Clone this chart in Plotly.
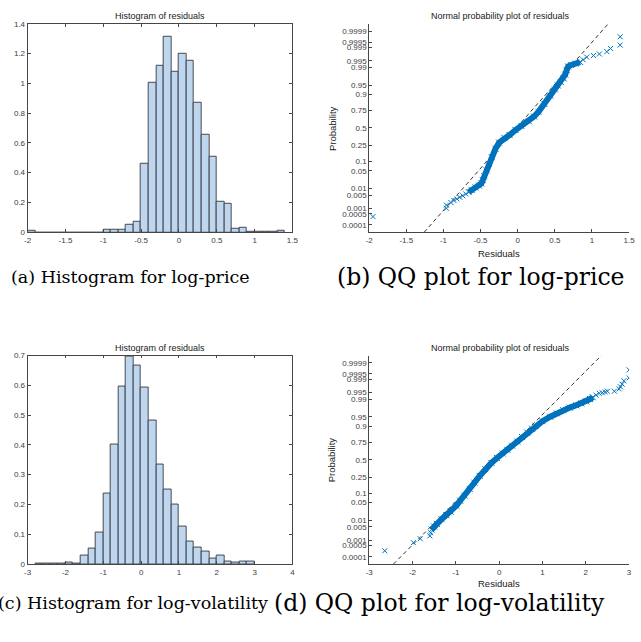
import plotly.graph_objects as go
from statistics import NormalDist

W, H = 641, 642

# ---------------- data ----------------
# (a) histogram of log-price residuals (bin width 0.1, density)
price_bin_left = [-2.0, -1.9, -1.8, -1.7, -1.6, -1.5, -1.4, -1.3, -1.2, -1.1,
                  -1.0, -0.9, -0.8, -0.7, -0.6, -0.5, -0.4, -0.3, -0.2, -0.1,
                  0.0, 0.1, 0.2, 0.3, 0.4, 0.5, 0.6, 0.7, 0.8, 0.9,
                  1.0, 1.1, 1.2, 1.3]
price_density = [0.007, 0, 0, 0, 0, 0, 0, 0, 0, 0,
                 0.015, 0.02, 0.02, 0.053, 0.073, 0.462, 1.007, 1.117, 1.312, 1.08,
                 1.197, 1.153, 0.872, 0.653, 0.504, 0.204, 0.19, 0.024, 0.031, 0.005,
                 0.003, 0.003, 0.005, 0.012]
price_bin_width = 0.1

# (c) histogram of log-volatility residuals (bin width 0.2, density)
vol_bin_left = [-2.8, -2.6, -2.4, -2.2, -2.0, -1.8, -1.6, -1.4, -1.2, -1.0,
                -0.8, -0.6, -0.4, -0.2, 0.0, 0.2, 0.4, 0.6, 0.8, 1.0,
                1.2, 1.4, 1.6, 1.8, 2.0, 2.2, 2.4, 2.6, 2.8]
vol_density = [0.002, 0.001, 0.001, 0.001, 0.005, 0.001, 0.028, 0.053, 0.106, 0.236,
               0.402, 0.597, 0.697, 0.666, 0.592, 0.483, 0.335, 0.249, 0.199, 0.126,
               0.076, 0.054, 0.041, 0.02, 0.03, 0.01, 0.005, 0.01, 0.01]
vol_bin_width = 0.2

# (b) normal probability plot, log-price: residual vs normal quantile
price_tail_resid = [-1.95, -0.96, -0.96, -0.90, -0.86, -0.82, -0.78, -0.74, -0.70,
                    0.88, 0.93, 1.02, 1.10, 1.20, 1.25, 1.38, 1.38]
price_tail_q = [-3.40, -3.08, -2.96, -2.86, -2.78, -2.72, -2.66, -2.60, -2.53,
                2.62, 2.72, 2.78, 2.84, 2.93, 3.05, 3.18, 3.50]
price_body_resid = [-0.66, -0.62, -0.57, -0.52, -0.49, -0.47, -0.45, -0.42, -0.39, -0.35,
                    -0.30, -0.25, -0.18, -0.11, -0.03, 0.05, 0.15, 0.22, 0.28, 0.36,
                    0.44, 0.50, 0.54, 0.58, 0.62, 0.64, 0.66, 0.68, 0.72, 0.78, 0.84]
price_body_q = [-2.46, -2.38, -2.28, -2.21, -2.13, -2.00, -1.85, -1.62, -1.38, -1.12,
                -0.80, -0.56, -0.38, -0.27, -0.08, 0.08, 0.26, 0.44, 0.62, 0.92,
                1.24, 1.48, 1.63, 1.76, 1.90, 2.05, 2.22, 2.36, 2.42, 2.47, 2.53]
price_fit_mu, price_fit_sigma = -0.02, 0.31

# (d) normal probability plot, log-volatility
vol_tail_resid = [-2.64, -1.98, -1.82, -1.60, -1.58,
                  2.24, 2.31, 2.38, 2.45, 2.50, 2.66, 2.77, 2.80, 2.84, 2.88, 3.0, 3.0]
vol_tail_q = [-3.49, -3.18, -3.03, -2.92, -2.80,
              2.48, 2.55, 2.57, 2.60, 2.63, 2.63, 2.72, 2.80, 2.90, 3.03, 3.14, 3.45]
vol_body_resid = [-1.56, -1.50, -1.44, -1.33, -1.22, -1.12, -0.99, -0.90, -0.80, -0.68,
                  -0.57, -0.45, -0.32, -0.18, -0.05, 0.08, 0.19, 0.30, 0.42, 0.53,
                  0.65, 0.76, 0.84, 1.00, 1.18, 1.33, 1.48, 1.63, 1.78, 1.90,
                  2.01, 2.10, 2.16]
vol_body_q = [-2.68, -2.56, -2.46, -2.28, -2.12, -1.99, -1.76, -1.57, -1.38, -1.12,
              -0.88, -0.62, -0.36, -0.12, 0.07, 0.24, 0.38, 0.54, 0.70, 0.87,
              1.04, 1.19, 1.30, 1.48, 1.65, 1.78, 1.90, 2.00, 2.09, 2.16,
              2.24, 2.33, 2.40]
vol_fit_mu, vol_fit_sigma = -0.04, 0.60

prob_ticks = [0.0001, 0.0005, 0.001, 0.005, 0.01, 0.05, 0.1, 0.25, 0.5,
              0.75, 0.9, 0.95, 0.99, 0.995, 0.999, 0.9995, 0.9999]
prob_labels = ["0.0001", "0.0005", "0.001", "0.005", "0.01", "0.05", "0.1", "0.25", "0.5",
               "0.75", "0.9", "0.95", "0.99", "0.995", "0.999", "0.9995", "0.9999"]
price_xticks = [-2, -1.5, -1, -0.5, 0, 0.5, 1, 1.5]
vol_hist_xticks = [-3, -2, -1, 0, 1, 2, 3, 4]
vol_qq_xticks = [-3, -2, -1, 0, 1, 2, 3]
price_yticks = [0, 0.2, 0.4, 0.6, 0.8, 1, 1.2, 1.4]
vol_yticks = [0, 0.1, 0.2, 0.3, 0.4, 0.5, 0.6, 0.7]

captions = ["(a) Histogram for log-price", "(b) QQ plot for log-price",
            "(c) Histogram for log-volatility", "(d) QQ plot for log-volatility"]

# ---------------- styles ----------------
SANS = "Liberation Sans, Arial, sans-serif"
SERIF = "DejaVu Serif, serif"
AX = "rgb(70,70,70)"
TICKFONT = dict(family=SANS, size=8, color="rgb(60,60,60)")
BLUE = "rgb(0,114,189)"
BAR_FILL = "rgb(190,215,238)"
BAR_EDGE = "rgb(55,55,65)"

nd = NormalDist()
prob_z = [nd.inv_cdf(p) for p in prob_ticks]


def lab(v):
    return f"{v:g}"


def xd(a, b):
    return [a / W, b / W]


def yd(top, bottom):
    return [1 - bottom / H, 1 - top / H]


TOP = (20, 231.5)
BOT = (356.5, 568)
HIST_X = (24, 293)
QQ_X = (371, 635)

fig = go.Figure()

# histograms
fig.add_trace(go.Bar(x=[l + price_bin_width / 2 for l in price_bin_left], y=price_density,
                     width=price_bin_width, marker=dict(color=BAR_FILL, line=dict(color=BAR_EDGE, width=0.9)),
                     xaxis="x", yaxis="y", showlegend=False))
fig.add_trace(go.Bar(x=[l + vol_bin_width / 2 for l in vol_bin_left], y=vol_density,
                     width=vol_bin_width, marker=dict(color=BAR_FILL, line=dict(color=BAR_EDGE, width=0.9)),
                     xaxis="x3", yaxis="y3", showlegend=False))


def qq(body_x, body_q, tail_x, tail_q, mu, sigma, xa, ya):
    zlo, zhi = -4.0, 4.0
    fig.add_trace(go.Scatter(x=[mu + sigma * zlo, mu + sigma * zhi], y=[zlo, zhi], mode="lines",
                             line=dict(color="rgb(30,30,30)", width=0.9, dash="4px,3px"),
                             xaxis=xa, yaxis=ya, showlegend=False, cliponaxis=True))
    fig.add_trace(go.Scatter(x=body_x, y=body_q, mode="lines+markers",
                             line=dict(color=BLUE, width=6),
                             marker=dict(symbol="x-thin", size=6, line=dict(color=BLUE, width=1)),
                             xaxis=xa, yaxis=ya, showlegend=False))
    fig.add_trace(go.Scatter(x=tail_x, y=tail_q, mode="markers",
                             marker=dict(symbol="x-thin", size=5, color=BLUE, line=dict(color=BLUE, width=1)),
                             xaxis=xa, yaxis=ya, showlegend=False))


qq(price_body_resid, price_body_q, price_tail_resid, price_tail_q, price_fit_mu, price_fit_sigma, "x2", "y2")
qq(vol_body_resid, vol_body_q, vol_tail_resid, vol_tail_q, vol_fit_mu, vol_fit_sigma, "x4", "y4")


def axis(domain, rng, tickvals, ticktext, mirror):
    return dict(domain=domain, range=rng, tickmode="array", tickvals=tickvals, ticktext=ticktext,
                ticks="inside", ticklen=3, tickwidth=0.8, tickcolor=AX,
                showline=True, linecolor=AX, linewidth=0.9, mirror=mirror,
                showgrid=False, zeroline=False, tickfont=TICKFONT, fixedrange=True)


layout = dict(
    width=W, height=H, margin=dict(l=0, r=0, t=0, b=0),
    paper_bgcolor="white", plot_bgcolor="white", bargap=0, showlegend=False,
    xaxis=axis(xd(*HIST_X), [-2, 1.5], price_xticks, [lab(v) for v in price_xticks], "ticks"),
    yaxis=axis(yd(*TOP), [0, 1.4], price_yticks, [lab(v) for v in price_yticks], "ticks"),
    xaxis2=axis(xd(*QQ_X), [-2, 1.5], price_xticks, [lab(v) for v in price_xticks], False),
    yaxis2=axis(yd(*TOP), [-4, 4], prob_z, prob_labels, False),
    xaxis3=axis(xd(*HIST_X), [-3, 4], vol_hist_xticks, [lab(v) for v in vol_hist_xticks], "ticks"),
    yaxis3=axis(yd(*BOT), [0, 0.7], vol_yticks, [lab(v) for v in vol_yticks], "ticks"),
    xaxis4=axis(xd(*QQ_X), [-3, 3], vol_qq_xticks, [lab(v) for v in vol_qq_xticks], False),
    yaxis4=axis(yd(*BOT), [-4, 4], prob_z, prob_labels, False),
)
for k in ["xaxis", "xaxis2", "xaxis3", "xaxis4"]:
    layout[k]["anchor"] = "y" + k[5:]
for k in ["yaxis", "yaxis2", "yaxis3", "yaxis4"]:
    layout[k]["anchor"] = "x" + k[5:]
fig.update_layout(**layout)

ann = []


def text(s, x, y, size, family=SANS, color="rgb(25,25,25)", angle=0, xanchor="center"):
    ann.append(dict(text=s, x=x / W, y=1 - y / H, xref="paper", yref="paper", showarrow=False,
                    xanchor=xanchor, yanchor="middle", textangle=angle,
                    font=dict(family=family, size=size, color=color)))


text("Histogram of residuals", 158.5, 12, 9)
text("Histogram of residuals", 158.5, 349, 9)
text("Normal probability plot of residuals", 504, 12, 9)
text("Normal probability plot of residuals", 504, 349, 9)
text("Probability", 333, 126, 9.5, angle=-90)
text("Probability", 333, 462, 9.5, angle=-90)
text("Residuals", 503, 253, 9.5)
text("Residuals", 503, 588, 9.5)

text(captions[0], 5, 277, 17.5, family=SERIF, color="black", xanchor="left")
text(captions[1], 336, 277, 23.5, family=SERIF, color="black", xanchor="left")
text(captions[2], -8, 608, 17.5, family=SERIF, color="black", xanchor="left")
text(captions[3], 272, 608, 23.5, family=SERIF, color="black", xanchor="left")

fig.update_layout(annotations=ann)
fig.write_html("out.html")
